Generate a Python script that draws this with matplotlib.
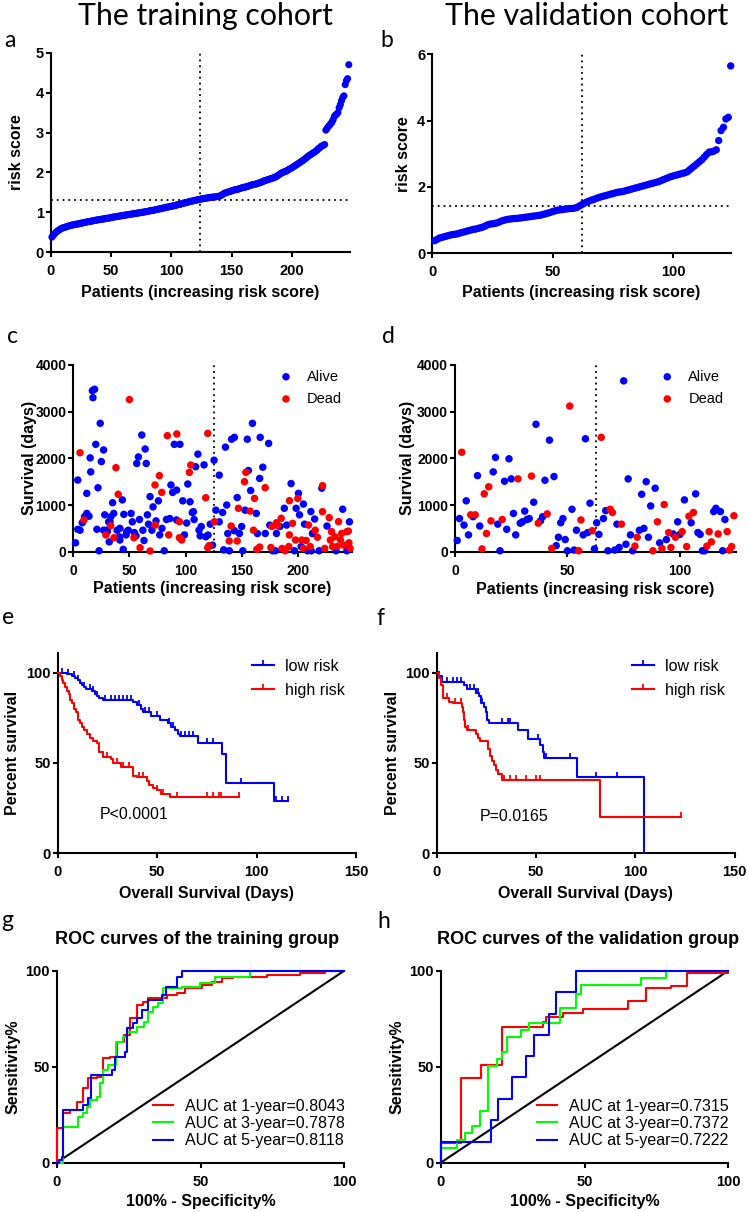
import numpy as np
import matplotlib
matplotlib.use('Agg')
import matplotlib.pyplot as plt
from matplotlib.lines import Line2D

plt.rcParams['font.family'] = ['Liberation Sans', 'DejaVu Sans']

W, H = 748, 1212
BLUE = '#0000FF'
RED = '#FF0000'
GREEN = '#00FF00'

# ---------------- data ----------------
titles = ['The training cohort', 'The validation cohort']
panel_letters = ['a', 'b', 'c', 'd', 'e', 'f', 'g', 'h']

# risk score (sorted), training cohort, patients 1..247
train_risk = [
    0.38, 0.42, 0.46, 0.49, 0.52, 0.54, 0.56, 0.58, 0.60, 0.61,
    0.62, 0.63, 0.64, 0.65, 0.66, 0.67, 0.68, 0.68, 0.69, 0.70,
    0.70, 0.71, 0.71, 0.72, 0.73, 0.73, 0.74, 0.75, 0.75, 0.76,
    0.77, 0.77, 0.78, 0.78, 0.79, 0.80, 0.80, 0.81, 0.81, 0.82,
    0.82, 0.83, 0.83, 0.84, 0.84, 0.85, 0.85, 0.86, 0.86, 0.87,
    0.88, 0.88, 0.89, 0.89, 0.90, 0.90, 0.91, 0.91, 0.92, 0.92,
    0.93, 0.93, 0.94, 0.94, 0.95, 0.95, 0.96, 0.96, 0.97, 0.97,
    0.98, 0.98, 0.99, 0.99, 1.00, 1.00, 1.01, 1.01, 1.02, 1.02,
    1.03, 1.04, 1.04, 1.05, 1.05, 1.06, 1.07, 1.07, 1.08, 1.09,
    1.09, 1.10, 1.11, 1.11, 1.12, 1.13, 1.13, 1.14, 1.15, 1.15,
    1.16, 1.17, 1.17, 1.18, 1.19, 1.20, 1.20, 1.21, 1.22, 1.23,
    1.24, 1.24, 1.25, 1.26, 1.27, 1.28, 1.28, 1.29, 1.30, 1.30,
    1.31, 1.32, 1.32, 1.33, 1.34, 1.34, 1.35, 1.35, 1.36, 1.36,
    1.37, 1.37, 1.38, 1.38, 1.38, 1.39, 1.39, 1.40, 1.40, 1.41,
    1.42, 1.44, 1.46, 1.48, 1.49, 1.50, 1.51, 1.52, 1.53, 1.54,
    1.55, 1.56, 1.57, 1.57, 1.58, 1.59, 1.60, 1.61, 1.62, 1.63,
    1.63, 1.64, 1.65, 1.66, 1.67, 1.68, 1.69, 1.70, 1.70, 1.71,
    1.72, 1.73, 1.74, 1.75, 1.76, 1.78, 1.79, 1.80, 1.81, 1.82,
    1.83, 1.84, 1.85, 1.86, 1.87, 1.88, 1.90, 1.92, 1.94, 1.96,
    1.98, 2.00, 2.01, 2.02, 2.03, 2.05, 2.07, 2.09, 2.10, 2.12,
    2.14, 2.16, 2.18, 2.20, 2.22, 2.24, 2.26, 2.28, 2.30, 2.32,
    2.35, 2.37, 2.40, 2.42, 2.44, 2.46, 2.48, 2.50, 2.52, 2.54,
    2.57, 2.60, 2.62, 2.65, 2.67, 2.68, 2.70, 3.06, 3.10, 3.15,
    3.18, 3.22, 3.26, 3.32, 3.40, 3.44, 3.46, 3.50, 3.62, 3.70,
    3.80, 3.88, 3.92, 4.20, 4.30, 4.35, 4.70]
train_cut_patient = 123.5
train_cut_risk = 1.31

# risk score (sorted), validation cohort, patients 1..124
valid_risk = [
    0.38, 0.42, 0.46, 0.48, 0.50, 0.52, 0.54, 0.56, 0.57, 0.58,
    0.60, 0.62, 0.64, 0.66, 0.68, 0.70, 0.72, 0.73, 0.75, 0.77,
    0.79, 0.82, 0.86, 0.88, 0.89, 0.90, 0.92, 0.95, 0.98, 1.00,
    1.02, 1.03, 1.04, 1.05, 1.05, 1.06, 1.07, 1.08, 1.09, 1.10,
    1.11, 1.12, 1.13, 1.14, 1.15, 1.17, 1.19, 1.21, 1.23, 1.26,
    1.28, 1.30, 1.31, 1.32, 1.33, 1.34, 1.35, 1.35, 1.36, 1.38,
    1.42, 1.46, 1.50, 1.54, 1.57, 1.60, 1.62, 1.65, 1.68, 1.70,
    1.72, 1.74, 1.76, 1.78, 1.80, 1.82, 1.84, 1.85, 1.86, 1.88,
    1.90, 1.92, 1.94, 1.96, 1.98, 2.00, 2.02, 2.04, 2.06, 2.08,
    2.10, 2.12, 2.14, 2.16, 2.19, 2.22, 2.25, 2.28, 2.31, 2.33,
    2.35, 2.37, 2.39, 2.41, 2.43, 2.46, 2.52, 2.58, 2.64, 2.70,
    2.76, 2.82, 2.90, 2.98, 3.05, 3.06, 3.08, 3.12, 3.40, 3.70,
    3.80, 4.05, 4.10, 5.65]
valid_cut_patient = 62.3
valid_cut_risk = 1.44

# survival status scatter: (patient index, survival days)
train_alive = [
    (2, 190), (4, 480), (4, 1535), (6, 460), (8, 620), (10, 750), (12, 820), (12, 1250),
    (14, 760), (15, 2010), (15.5, 1710), (17, 3450), (17.5, 3300), (19, 3480), (20, 2300),
    (21, 480), (22, 1370), (23, 20), (24, 2750), (25, 1930), (27, 2180), (28, 790), (27, 460),
    (30, 460), (30.3, 430), (31.5, 640), (32, 210), (32.7, 643), (33.5, 750), (35, 1050),
    (36, 820), (39, 460), (41, 320), (41.5, 250), (41.5, 500), (43.7, 1110), (44.5, 50),
    (45, 800), (47, 360), (47.6, 430), (49, 460), (51.5, 820), (52.6, 640), (54.4, 410),
    (55.9, 340), (56.5, 1890), (58, 2030), (59, 690), (61, 2500), (62, 460), (63, 240),
    (64, 2200), (65, 1890), (66, 790), (67, 590), (68.4, 1180), (70, 460), (71, 960),
    (73.7, 660), (75.8, 1090), (77, 360), (79, 500), (81, 20), (83, 690), (86, 710),
    (87, 1430), (88.5, 1270), (90, 2300), (92, 1320), (92, 680), (95, 2300), (97.5, 1090),
    (99, 360), (101, 614), (102, 1450), (104, 1070), (106, 840), (107, 857), (107.6, 690),
    (109, 1820), (111, 2090), (112, 460), (113, 340), (114, 540), (116.5, 1860), (118, 320),
    (120, 357), (122, 590), (124, 140), (125.4, 1960), (127, 890), (130, 1640), (130, 640),
    (133, 840), (134, 40), (135.5, 2240), (136.7, 1000), (137.6, 390), (139, 20), (141, 2410),
    (143.5, 2450), (143.5, 450), (146, 1160), (148, 390), (150, 540), (151, 20), (153, 890),
    (155, 2410), (156, 1740), (158, 1310), (159.6, 2750), (163, 820), (164, 390), (166, 1570),
    (166.5, 2450), (168.8, 1810), (171, 390), (174, 2320), (175, 570), (177.5, 20), (180, 20),
    (181, 390), (184, 540), (188, 930), (190, 570), (194, 1460), (197, 20), (198.5, 930),
    (200.6, 1250), (201.5, 790), (203, 110), (205, 1020), (206, 590), (208.6, 20), (211.6, 860),
    (212, 20), (213, 390), (215, 700), (219, 20), (221.4, 1360), (226, 550), (234, 20),
    (240, 910), (243.7, 20), (246, 640)]
train_dead = [
    (6, 2120), (9.5, 680), (29, 360), (33.3, 557), (36.3, 300), (38, 1800), (40, 1230),
    (50, 3260), (54, 300), (59.5, 86), (68.4, 15), (72.8, 1430), (73, 570), (76.7, 1630),
    (78.8, 1270), (83.8, 2486), (85, 360), (92.2, 2522), (94.5, 643), (94.5, 300), (96.6, 250),
    (103.4, 1700), (104.6, 1857), (118, 1157), (119.8, 2536), (119.8, 86), (121, 130),
    (125.7, 643), (138.9, 230), (140.6, 550), (146, 230), (147.1, 930), (152.5, 1500),
    (153.7, 1700), (157.5, 870), (160.5, 460), (161.4, 1143), (163.5, 50), (166, 100),
    (170.9, 1371), (176, 90), (177, 540), (181, 620), (182, 560), (185.2, 715), (186, 70),
    (188.7, 20), (192, 110), (192.5, 360), (192.6, 1093), (195.3, 608), (198, 250),
    (200, 1140), (203.6, 250), (205, 70), (207.4, 240), (209.5, 570), (211, 110), (215.5, 460),
    (217.5, 310), (222, 1414), (222, 857), (224, 70), (228, 729), (229, 250), (230, 430),
    (231, 110), (233, 320), (235, 110), (236.3, 643), (238, 250), (239, 390), (241, 140),
    (243.7, 430), (245, 440), (245.5, 190), (246.6, 70)]
train_cut_patient_c = 125

valid_alive = [
    (1, 240), (2, 710), (4, 570), (5, 1090), (6, 360), (8, 750), (10, 1630), (11, 550),
    (17, 1710), (18, 2020), (19, 590), (20, 20), (22, 1510), (23, 480), (24, 1990), (25, 1560),
    (26, 820), (27, 360), (29, 610), (30, 640), (31, 870), (32, 690), (33, 710), (35, 1060),
    (36, 2730), (38, 660), (39, 750), (40, 1530), (42, 2390), (44, 1610), (45, 130), (46, 310),
    (47, 620), (48, 710), (49, 260), (50, 20), (52, 910), (53, 35), (54, 460), (57, 360),
    (58, 2420), (59, 410), (60, 1040), (62, 60), (63, 620), (64, 370), (66, 710), (67, 880),
    (68, 20), (71, 35), (72, 590), (73, 90), (75, 3660), (76, 160), (77, 1560), (78, 360),
    (79, 20), (82, 460), (83, 1230), (84, 500), (85, 1500), (86, 310), (87, 980), (89, 1360),
    (91, 190), (94, 260), (97, 380), (99, 640), (100, 370), (102, 1110), (105, 620),
    (107, 1240), (108, 410), (109, 370), (110, 20), (111, 20), (115, 860), (116, 930),
    (118, 860), (119, 20), (120, 690)]
valid_dead = [
    (3, 2130), (7, 790), (9, 790), (12, 60), (13, 1240), (14, 390), (15, 1390), (16, 660),
    (21, 690), (28, 1560), (34, 1620), (37, 610), (41, 810), (43, 70), (51, 3120), (55, 20),
    (56, 680), (61, 450), (65, 2450), (69, 910), (70, 840), (74, 590), (80, 120), (81, 310),
    (88, 20), (90, 640), (92, 70), (93, 1010), (95, 410), (96, 90), (98, 310), (101, 430),
    (103, 110), (104, 760), (106, 840), (112, 120), (113, 430), (114, 210), (117, 380),
    (121, 430), (122, 35), (123, 110), (124, 770)]
valid_cut_patient_d = 62.5

# Kaplan-Meier step curves (time, percent survival), end time and censor times
e_low_t = [0, 4.5, 7, 8.7, 10, 11.2, 12, 13, 14, 17, 19, 19.6, 21, 23, 38, 40, 42, 43,
           47, 51.5, 55.6, 57, 59, 60.7, 61.5, 70.4, 82.8, 84.5, 84.6, 108.8]
e_low_s = [100, 99, 98, 97, 96, 94, 93, 92, 91, 90, 88, 87, 86, 85, 84, 82, 80, 78,
           76, 74, 72, 70, 68, 66, 65, 61, 55, 52.6, 38.7, 28.8]
e_low_end = 116
e_low_cens = [2, 5, 8, 10, 13, 16, 18, 20, 24, 27, 29, 31, 33, 35, 37, 41, 44, 46, 50,
              56, 58, 62, 64, 66, 68, 75, 78, 92, 110, 113, 116]
e_high_t = [0, 1, 2, 2.8, 3.5, 4.5, 5.5, 6.2, 7, 8, 9, 10.4, 11, 12, 13, 14.6, 16, 17.5,
            19.6, 21, 23, 27, 28, 32, 38, 40, 45, 46, 48, 49.8, 52, 56.5]
e_high_s = [100, 98, 96, 94, 92, 90, 88, 85, 83, 80, 78, 74, 72, 70, 68, 66, 64, 62,
            61, 56, 53.5, 52, 50, 48, 43, 42, 40, 38, 36, 35, 33, 31.4]
e_high_end = 91.3
e_high_cens = [25, 30, 33, 36, 41, 43, 45, 50, 53, 60, 75, 78, 81, 82, 91]
e_pvalue = 'P<0.0001'

f_low_t = [0, 0.8, 2.9, 13.8, 15, 20, 21.3, 22.5, 23.8, 24.8, 25.5, 26.3, 41, 46,
           51.8, 53.5, 54, 70.8, 104.4]
f_low_s = [100, 98, 95, 93, 91, 89, 87, 83, 81, 78, 74, 72, 68, 63.5, 60, 56, 52.5, 42, 0]
f_low_end = 104.4
f_low_cens = [1, 5, 8, 10, 12, 17, 19, 21, 23, 24, 33, 36, 37, 51, 55, 67, 80, 91]
f_high_t = [0, 1, 2, 3.3, 6, 8, 12.5, 13, 13.5, 14, 15.5, 20, 21, 22, 26, 27, 28, 29,
            30, 31, 33, 82]
f_high_s = [100, 97, 93, 86, 84, 83, 81, 78, 74, 70, 68, 66, 64, 62, 58, 54, 51, 49,
            46, 44, 40.5, 20]
f_high_end = 123
f_high_cens = [5, 9, 12, 16, 21, 29, 30, 31, 34, 37, 40, 45, 50, 52, 123]
f_pvalue = 'P=0.0165'

# ROC step curves (100% - specificity, sensitivity)
g_red_x = [0, 0, 2.1, 4.6, 7, 9, 11, 13.9, 16, 18.5, 20.9, 23.4, 25.5, 27.8, 30, 31.9,
           38.2, 41.7, 44.6, 50.4, 53.9, 57.4, 61.4, 73, 84.6, 93.3, 100]
g_red_y = [0, 17.9, 25.7, 27.4, 31.8, 38.7, 43.9, 44.8, 54.3, 55.2, 63, 66.5, 75.2, 82.1,
           83.9, 85.6, 87.3, 88.2, 90.8, 92.5, 94.3, 96, 96.9, 97.7, 98.6, 100, 100]
g_green_x = [0, 2.3, 7.5, 9.3, 10.4, 11.6, 13.9, 15, 16.2, 18, 20.6, 23.2, 24.3, 28, 30.4,
             31.9, 33.6, 35.3, 37.1, 43.5, 49.8, 55, 67.2, 100]
g_green_y = [0, 18.8, 24, 25.7, 29.2, 32.6, 34.4, 41.3, 48.3, 50.9, 63, 65.6, 68.2, 70.8,
             73.4, 78.6, 81.3, 83, 90.8, 91.7, 93.4, 96.5, 100, 100]
g_blue_x = [0, 0.9, 1.7, 2.1, 9.3, 10.8, 11.8, 19.1, 20.3, 23.8, 24.3, 26.4, 28, 29.5,
            31.6, 36.7, 37.9, 41.7, 43.5, 100]
g_blue_y = [0, 1.4, 3, 27.4, 30, 33.5, 45.7, 48.3, 55.2, 57.8, 69.9, 72.6, 75.2, 79.5,
            84.7, 87.3, 91.3, 96.9, 100, 100]
g_labels = ['AUC at 1-year=0.8043', 'AUC at 3-year=0.7878', 'AUC at 5-year=0.8118']

h_red_x = [0, 0, 7.2, 14.1, 21.4, 35.7, 36.5, 42.5, 49.5, 65, 71.5, 80, 85.5, 100]
h_red_y = [0, 10.4, 43.9, 50.9, 70.5, 73.5, 76, 78, 80, 84, 91, 92, 99, 100]
h_green_x = [0, 0, 5.6, 8.5, 11, 13.7, 16.5, 19.7, 21.4, 23.2, 27.8, 30.7, 41.4, 47, 48.7,
             69.5, 78.2, 100]
h_green_y = [0, 7.6, 11.8, 15.3, 19.1, 27, 50.5, 53.8, 57.6, 65.3, 69, 73, 80.5, 88, 92.5,
             96, 100, 100]
h_blue_x = [0, 0, 17.6, 19.9, 24.9, 29.8, 32.4, 37.7, 40, 47.2, 100]
h_blue_y = [0, 11, 22, 33, 44.5, 55.5, 66.5, 77.7, 89, 100, 100]
h_labels = ['AUC at 1-year=0.7315', 'AUC at 3-year=0.7372', 'AUC at 5-year=0.7222']

# ---------------- drawing ----------------
fig = plt.figure(figsize=(W / 100, H / 100), dpi=100)

TICK_FS = 10.5
LAB_FS = 11.5


def add_ax(l, r, t, b):
    return fig.add_axes([l / W, 1 - b / H, (r - l) / W, (b - t) / H])


def style(ax, box, xl, yl, ylx, xly, tick_fs=TICK_FS):
    l, r, t, b = box
    for s in ['top', 'right']:
        ax.spines[s].set_visible(False)
    for s in ['left', 'bottom']:
        ax.spines[s].set_linewidth(1.5)
    ax.tick_params(axis='both', direction='out', length=3.5, width=1.5, labelsize=tick_fs)
    ax.tick_params(axis='y', pad=1.5)
    ax.tick_params(axis='x', pad=5)
    for lab in ax.get_xticklabels() + ax.get_yticklabels():
        lab.set_fontweight('bold')
    ax.set_xlabel(xl, fontsize=LAB_FS, fontweight='bold')
    ax.set_ylabel(yl, fontsize=LAB_FS, fontweight='bold')
    ax.xaxis.label.set_va('center')
    ax.yaxis.label.set_va('center')
    ax.xaxis.set_label_coords(0.5, (b - xly) / (b - t))
    ax.yaxis.set_label_coords((ylx - l) / (r - l), 0.5)


def fig_pt(x, y):
    return (x / W, 1 - y / H)


DOT = dict(color='black', lw=1.3, ls=(0, (1, 2.2)))

# ---- titles and letters
fig.text(*fig_pt(205.8, 25), titles[0], fontsize=21.8, family='Lato', ha='center', va='baseline')
fig.text(*fig_pt(586.5, 25), titles[1], fontsize=21.8, family='Lato', ha='center', va='baseline')
letter_pos = [(4, 46.7), (380.7, 47), (6.7, 343.3), (382, 342.7),
              (1.7, 624.3), (376.7, 625), (1.7, 926.7), (377.3, 928.3)]
for let, (lx, ly) in zip(panel_letters, letter_pos):
    fig.text(*fig_pt(lx, ly), let, fontsize=16.5, family='Lato', ha='left', va='baseline')

# ---- panel a
box = (50.7, 350, 52.7, 252.3)
ax = add_ax(*box)
xa = np.arange(1, len(train_risk) + 1)
ax.scatter(xa, train_risk, s=26, color=BLUE, edgecolors='none', clip_on=False, zorder=3)
ax.set_xlim(0, 248)
ax.set_ylim(0, 5)
ax.plot([train_cut_patient, train_cut_patient], [0, 5], **DOT)
ax.plot([0, 248], [train_cut_risk, train_cut_risk], **DOT)
ax.set_xticks([0, 50, 100, 150, 200])
ax.set_yticks([0, 1, 2, 3, 4, 5])
style(ax, box, 'Patients (increasing risk score)', 'risk score', 16.7, 292)

# ---- panel b
box = (432.3, 730.7, 54.3, 253.3)
ax = add_ax(*box)
xb = np.arange(1, len(valid_risk) + 1)
ax.scatter(xb, valid_risk, s=28, color=BLUE, edgecolors='none', clip_on=False, zorder=3)
ax.set_xlim(0, 124)
ax.set_ylim(0, 6)
ax.plot([valid_cut_patient, valid_cut_patient], [0, 6], **DOT)
ax.plot([0, 124], [valid_cut_risk, valid_cut_risk], **DOT)
ax.set_xticks([0, 50, 100])
ax.set_yticks([0, 2, 4, 6])
style(ax, box, 'Patients (increasing risk score)', 'risk score', 403.3, 292)


# ---- panels c, d
def status_panel(box, alive, dead, xmax, cut, leg_left):
    ax = add_ax(*box)
    ax_x, ax_y = zip(*alive)
    dx, dy = zip(*dead)
    ax.scatter(ax_x, ax_y, s=29, color=BLUE, edgecolors='none', clip_on=False, zorder=3, label='Alive')
    ax.scatter(dx, dy, s=29, color=RED, edgecolors='none', clip_on=False, zorder=3, label='Dead')
    ax.set_xlim(0, xmax)
    ax.set_ylim(0, 4000)
    ax.plot([cut, cut], [0, 4000], **DOT)
    ax.set_yticks([0, 1000, 2000, 3000, 4000])
    ax.legend(loc='upper left', bbox_to_anchor=fig_pt(leg_left, 369.6),
              bbox_transform=fig.transFigure, frameon=False, fontsize=10.5,
              scatterpoints=1, handlelength=1.0, handletextpad=0.94, labelspacing=0.56,
              borderpad=0, borderaxespad=0)
    return ax


box = (73.3, 351.7, 365, 551.7)
ax = status_panel(box, train_alive, train_dead, 248, train_cut_patient_c, 278.7)
ax.set_xticks([0, 50, 100, 150, 200])
style(ax, box, 'Patients (increasing risk score)', 'Survival (days)', 29.5, 588.3, tick_fs=10)

box = (455, 735.7, 365, 551.7)
ax = status_panel(box, valid_alive, valid_dead, 124.8, valid_cut_patient_d, 660)
ax.set_xticks([0, 50, 100])
style(ax, box, 'Patients (increasing risk score)', 'Survival (days)', 407.3, 589.3, tick_fs=10)


# ---- panels e, f (Kaplan-Meier)
def km(ax, t, s, end, cens, color):
    tt = list(t) + [end]
    ss = list(s) + [s[-1]]
    ax.step(tt, ss, where='post', color=color, lw=1.5, clip_on=False, zorder=3)
    tarr = np.array(t)
    sarr = np.array(s)
    idx = np.searchsorted(tarr, np.array(cens), side='right') - 1
    ax.plot(cens, sarr[idx], ls='none', marker=2, ms=3.8, mew=1.3, color=color,
            clip_on=False, zorder=3)


def km_panel(box, low, high, ptxt, px, py, leg_left, ylx, xly):
    ax = add_ax(*box)
    km(ax, *low, BLUE)
    km(ax, *high, RED)
    ax.set_xlim(0, 150)
    ax.set_ylim(0, 110.7)
    ax.set_xticks([0, 50, 100, 150])
    ax.set_yticks([0, 50, 100])
    ax.text(px, py, ptxt, fontsize=11.5, ha='left', va='center')
    handles = [Line2D([], [], color=BLUE, lw=1.5, marker=2, ms=3.8, mew=1.3, label='low risk'),
               Line2D([], [], color=RED, lw=1.5, marker=2, ms=3.8, mew=1.3, label='high risk')]
    ax.legend(handles=handles, loc='upper left', bbox_to_anchor=fig_pt(leg_left, 658.8),
              bbox_transform=fig.transFigure, frameon=False, fontsize=11.5, numpoints=1,
              handlelength=1.4, handletextpad=0.69, labelspacing=0.56,
              borderpad=0, borderaxespad=0)
    style(ax, box, 'Overall Survival (Days)', 'Percent survival', ylx, xly)
    return ax


km_panel((57.7, 356, 653.3, 853.3),
         (e_low_t, e_low_s, e_low_end, e_low_cens),
         (e_high_t, e_high_s, e_high_end, e_high_cens),
         e_pvalue, 21.3, 21.2, 251.7, 12.7, 893.3)
km_panel((436.7, 734.7, 653.3, 853.3),
         (f_low_t, f_low_s, f_low_end, f_low_cens),
         (f_high_t, f_high_s, f_high_end, f_high_cens),
         f_pvalue, 21.8, 20.3, 631.7, 392.3, 893.3)


# ---- panels g, h (ROC)
def roc_panel(box, curves, labels, title, title_x, leg_left, ylx, xly):
    l, r, t, b = box
    ax = add_ax(*box)
    ax.plot([0, 100], [0, 100], color='black', lw=1.5, zorder=2)
    for (x, y), col, lab in zip(curves, [RED, GREEN, BLUE], labels):
        ax.plot(x, y, drawstyle='steps-post', color=col, lw=1.5, clip_on=False, zorder=3, label=lab)
    ax.set_xlim(0, 100)
    ax.set_ylim(0, 100)
    ax.set_xticks([0, 50, 100])
    ax.set_yticks([0, 50, 100])
    ax.text(title_x, (b - 940) / (b - t), title, transform=ax.transAxes,
            fontsize=13, fontweight='bold', ha='center', va='center')
    ax.legend(loc='upper left', bbox_to_anchor=fig_pt(leg_left, 1098.5),
              bbox_transform=fig.transFigure, frameon=False, fontsize=11.5,
              handlelength=1.25, handletextpad=0.75, labelspacing=0.15,
              borderpad=0, borderaxespad=0)
    style(ax, box, '100% - Specificity%', 'Sensitivity%', ylx, xly)
    return ax


roc_panel((56.7, 344.3, 970.7, 1162.7),
          [(g_red_x, g_red_y), (g_green_x, g_green_y), (g_blue_x, g_blue_y)],
          g_labels, 'ROC curves of the training group', 0.487, 153, 12.7, 1201.7)
roc_panel((440.7, 728.3, 970.7, 1162.7),
          [(h_red_x, h_red_y), (h_green_x, h_green_y), (h_blue_x, h_blue_y)],
          h_labels, 'ROC curves of the validation group', 0.514, 537, 396.7, 1201.7)

fig.savefig('out.png', dpi=100)
